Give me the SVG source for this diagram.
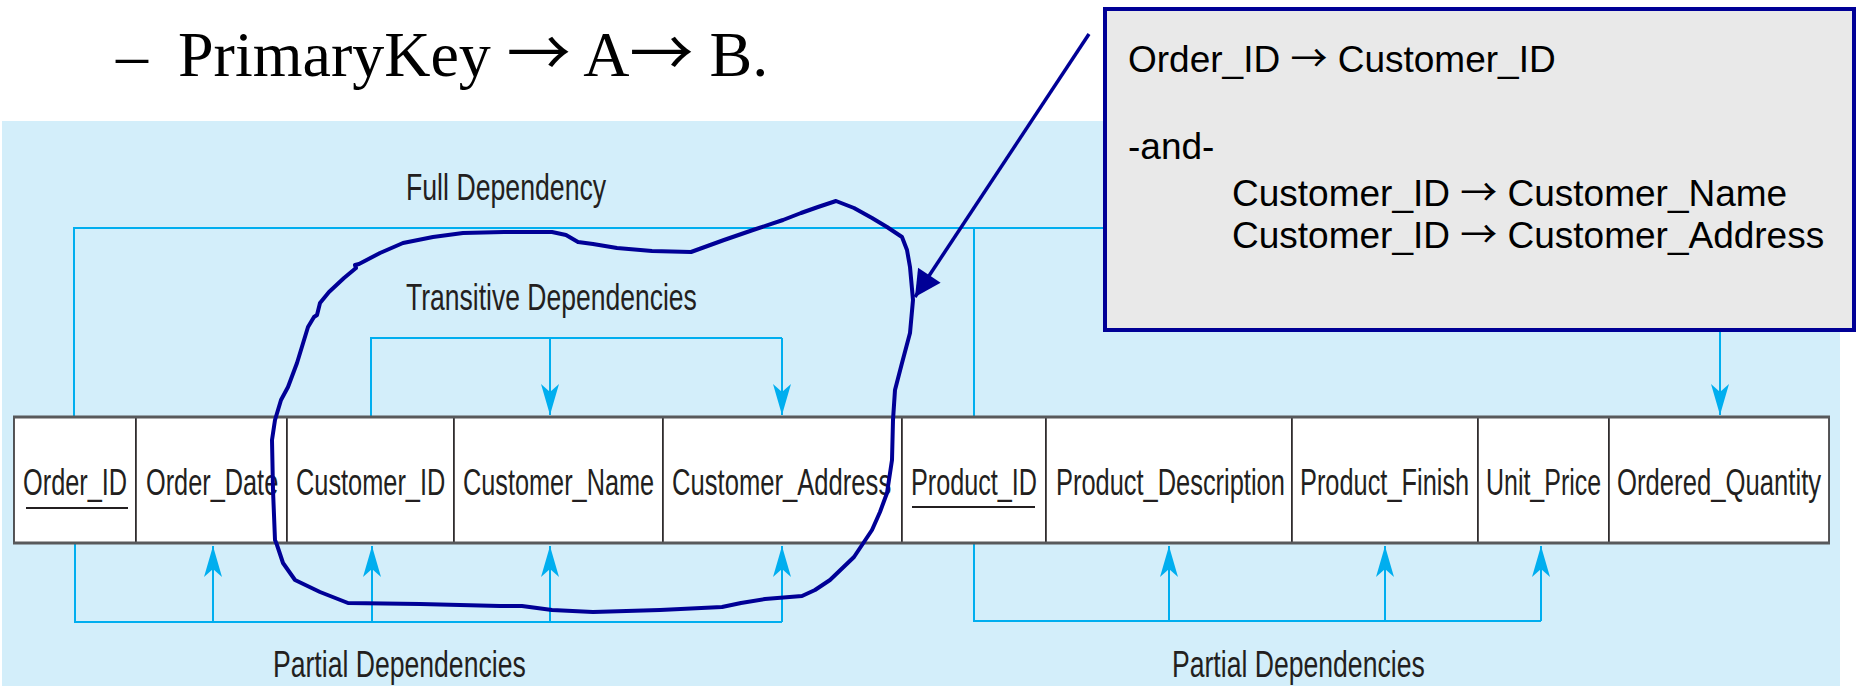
<svg xmlns="http://www.w3.org/2000/svg" width="1857" height="686" viewBox="0 0 1857 686">
  <defs>
    <style>
      .lbl { font-family: "Liberation Sans", Arial, sans-serif; font-size: 37px; fill: #231F20; }
      .box { font-family: "Liberation Sans", Arial, sans-serif; font-size: 37px; fill: #000000; }
      .title { font-family: "Liberation Serif", "Times New Roman", serif; font-size: 64px; fill: #000000; }
      .arr { font-family: "Noto Sans CJK SC", "DejaVu Sans", sans-serif; }
      .dep { fill: none; stroke: #00AEEF; stroke-width: 2; }
      .cell { fill: #FFFFFF; stroke: #231F20; stroke-width: 1.5; }
      .edge { stroke: #58595B; stroke-width: 3; }
      .ul { stroke: #231F20; stroke-width: 2; }
      .ink { fill: none; stroke: #000096; stroke-width: 4; stroke-linejoin: round; stroke-linecap: round; }
    </style>
    <marker id="ah" viewBox="-32 -10 33 20" markerWidth="33" markerHeight="20" refX="0" refY="0" orient="auto" markerUnits="userSpaceOnUse">
      <path d="M0,0 L-31,-9 L-23,0 L-31,9 Z" fill="#00AEEF"/>
    </marker>
    <marker id="inkhead" viewBox="-27 -14 28 28" markerWidth="28" markerHeight="28" refX="0" refY="0" orient="auto" markerUnits="userSpaceOnUse">
      <path d="M0,0 L-26,-13.5 L-26,13.5 Z" fill="#000096"/>
    </marker>
  </defs>

  <!-- title -->
  <text class="title" y="76"><tspan x="116">–</tspan><tspan x="178">PrimaryKey <tspan class="arr">→</tspan> A<tspan class="arr">→</tspan> B.</tspan></text>

  <!-- background panel -->
  <rect x="2" y="121" width="1838" height="565" fill="#D3EEFA"/>

  <!-- dependency labels -->
  <text class="lbl" transform="translate(406,200) scale(0.72,1)" textLength="278" lengthAdjust="spacingAndGlyphs">Full Dependency</text>
  <text class="lbl" transform="translate(406,310) scale(0.72,1)" textLength="404" lengthAdjust="spacingAndGlyphs">Transitive Dependencies</text>
  <text class="lbl" transform="translate(273,677) scale(0.72,1)" textLength="351" lengthAdjust="spacingAndGlyphs">Partial Dependencies</text>
  <text class="lbl" transform="translate(1172,677) scale(0.72,1)" textLength="351" lengthAdjust="spacingAndGlyphs">Partial Dependencies</text>

  <!-- connectors -->
  <g id="connectors">
    <path class="dep" d="M74,417 V228 H1720"/>
    <path class="dep" d="M974,228 V417"/>
    <path class="dep" d="M1720,228 V415" marker-end="url(#ah)"/>
    <path class="dep" d="M371,417 V338 H782"/>
    <path class="dep" d="M550,338 V415" marker-end="url(#ah)"/>
    <path class="dep" d="M782,338 V415" marker-end="url(#ah)"/>
    <path class="dep" d="M75,543 V622 H782"/>
    <path class="dep" d="M213,622 V546" marker-end="url(#ah)"/>
    <path class="dep" d="M372,622 V546" marker-end="url(#ah)"/>
    <path class="dep" d="M550,622 V546" marker-end="url(#ah)"/>
    <path class="dep" d="M782,622 V546" marker-end="url(#ah)"/>
    <path class="dep" d="M974,543 V621 H1541"/>
    <path class="dep" d="M1169,621 V546" marker-end="url(#ah)"/>
    <path class="dep" d="M1385,621 V546" marker-end="url(#ah)"/>
    <path class="dep" d="M1541,621 V546" marker-end="url(#ah)"/>
  </g>

  <!-- relation table -->
  <g id="table">
    <g id="order_id"><rect class="cell" x="14" y="417" width="122" height="126"/><text class="lbl" transform="translate(23,495) scale(0.685,1)" textLength="152" lengthAdjust="spacingAndGlyphs">Order_ID</text><line class="ul" x1="26" y1="508" x2="128" y2="508"/></g>
    <g id="order_date"><rect class="cell" x="136" y="417" width="151" height="126"/><text class="lbl" transform="translate(146,495) scale(0.685,1)" textLength="193" lengthAdjust="spacingAndGlyphs">Order_Date</text></g>
    <g id="customer_id"><rect class="cell" x="287" y="417" width="167" height="126"/><text class="lbl" transform="translate(296,495) scale(0.685,1)" textLength="218" lengthAdjust="spacingAndGlyphs">Customer_ID</text></g>
    <g id="customer_name"><rect class="cell" x="454" y="417" width="209" height="126"/><text class="lbl" transform="translate(463,495) scale(0.685,1)" textLength="279" lengthAdjust="spacingAndGlyphs">Customer_Name</text></g>
    <g id="customer_address"><rect class="cell" x="663" y="417" width="239" height="126"/><text class="lbl" transform="translate(672,495) scale(0.685,1)" textLength="320" lengthAdjust="spacingAndGlyphs">Customer_Address</text></g>
    <g id="product_id"><rect class="cell" x="902" y="417" width="144" height="126"/><text class="lbl" transform="translate(911,495) scale(0.685,1)" textLength="184" lengthAdjust="spacingAndGlyphs">Product_ID</text><line class="ul" x1="912" y1="507" x2="1035" y2="507"/></g>
    <g id="product_description"><rect class="cell" x="1046" y="417" width="246" height="126"/><text class="lbl" transform="translate(1056,495) scale(0.685,1)" textLength="334" lengthAdjust="spacingAndGlyphs">Product_Description</text></g>
    <g id="product_finish"><rect class="cell" x="1292" y="417" width="186" height="126"/><text class="lbl" transform="translate(1300,495) scale(0.685,1)" textLength="247" lengthAdjust="spacingAndGlyphs">Product_Finish</text></g>
    <g id="unit_price"><rect class="cell" x="1478" y="417" width="131" height="126"/><text class="lbl" transform="translate(1486,495) scale(0.685,1)" textLength="168" lengthAdjust="spacingAndGlyphs">Unit_Price</text></g>
    <g id="ordered_quantity"><rect class="cell" x="1609" y="417" width="220" height="126"/><text class="lbl" transform="translate(1617,495) scale(0.685,1)" textLength="298" lengthAdjust="spacingAndGlyphs">Ordered_Quantity</text></g>
    <line class="edge" x1="13" y1="417" x2="1830" y2="417"/>
    <line class="edge" x1="13" y1="543" x2="1830" y2="543"/>
  </g>

  <!-- hand-drawn loop -->
  <g id="loop">
    <polyline class="ink" points="356,268 355,265 359,264 380,253 403,243 433,237 463,233 504,232 552,232 566,235 578,242 593,244 617,248 652,251 691,252 724,240 753,230 783,220 801,213 818,207 836,201 854,208 872,218 887,227 902,237 907,250 910,267 913,300 910,333 902,363 895,390 893,420 892,460 887,493 880,512 872,530 854,557 830,580 815,590 802,596 765,599 741,603 722,607 660,610 593,612 552,610 522,606 500,606 420,604 348,603 320,592 295,580 283,563 277,545 275,540 273,490 272,440 275,420 281,400 288,387 297,363 308,327 314,317 317,315 320,303 329,292 344,278 356,268"/>
  </g>

  <!-- callout -->
  <g id="callout">
    <rect x="1105" y="9" width="749" height="321" fill="#E9E9E9" stroke="#000096" stroke-width="4"/>
    <text class="box" x="1128" y="72">Order_ID <tspan class="arr">→</tspan> Customer_ID</text>
    <text class="box" x="1128" y="159">-and-</text>
    <text class="box" x="1232" y="206">Customer_ID <tspan class="arr">→</tspan> Customer_Name</text>
    <text class="box" x="1232" y="248">Customer_ID <tspan class="arr">→</tspan> Customer_Address</text>
  </g>

  <!-- callout pointer -->
  <g id="pointer">
    <line x1="1089" y1="34" x2="915" y2="297" stroke="#000096" stroke-width="3.5" marker-end="url(#inkhead)"/>
  </g>
</svg>
